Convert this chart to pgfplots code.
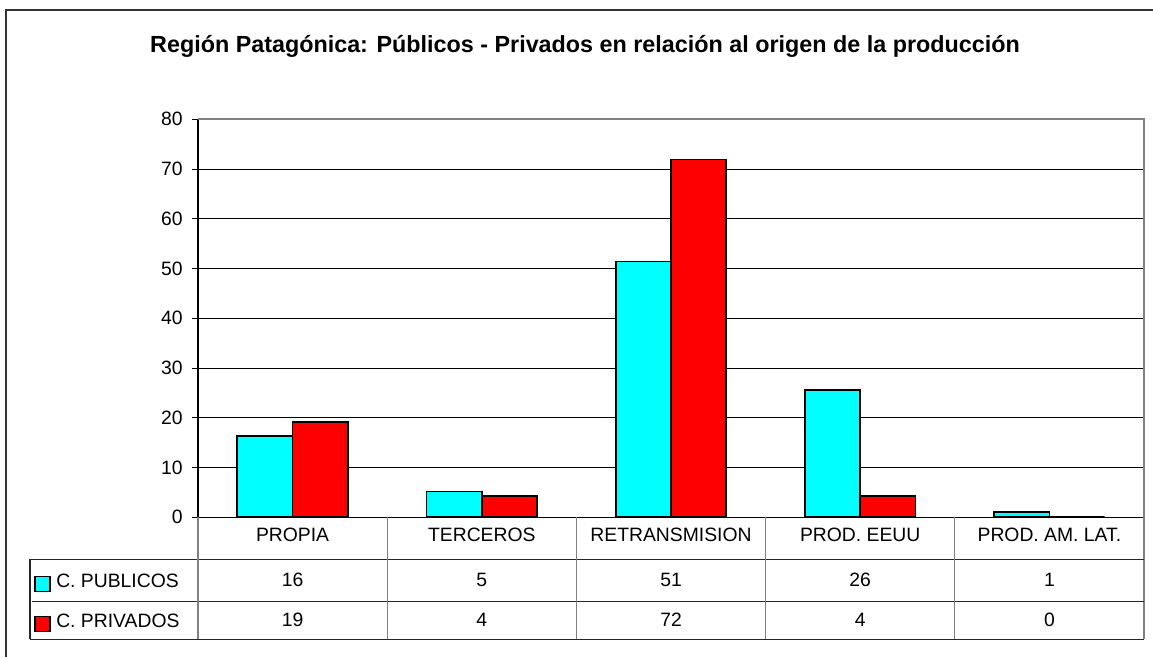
\documentclass[border=0pt]{standalone}
\usepackage{fontspec}
\setmainfont{Liberation Sans}
\usepackage{pgfplots}
\pgfplotsset{compat=1.18}
\definecolor{cyanbar}{RGB}{0,255,255}
\definecolor{redbar}{RGB}{255,0,0}
\definecolor{tgray}{RGB}{128,128,128}
\begin{document}
\begin{tikzpicture}[x=0.75pt,y=0.75pt]
\useasboundingbox (0,0) rectangle (1153,657);
% outer frame
\draw[line width=1.5pt,black!80] (6,0) -- (6,647) -- (1153,647);
% title
\node[font=\bfseries\fontsize{17.5}{20}\selectfont] at (585,611) {Región Patagónica: Públicos - Privados en relación al origen de la producción};
\begin{axis}[
  at={(148.5pt,104.775pt)}, anchor=south west,
  scale only axis, width=709.5pt, height=298.5pt,
  xmin=-0.5, xmax=4.5, ymin=0, ymax=80,
  ybar=0pt, bar width=0.292,
  axis lines*=left,
  axis line style={black, line width=0.9pt},
  ytick={0,10,...,80},
  ymajorgrids,
  grid style={black, line width=0.75pt},
  ytick style={black, line width=0.75pt},
  tick align=outside, major tick length=4.5pt,
  xtick=data,
  xticklabels={PROPIA,TERCEROS,RETRANSMISION,PROD. EEUU,PROD. AM. LAT.},
  xtick style={draw=none},
  xticklabel style={anchor=center, yshift=-8.75pt},
  tick label style={font=\fontsize{14.5}{17}\selectfont},
  yticklabel style={xshift=-3.5pt},
  /pgf/number format/assume math mode=true,
  clip=false,
]
\addplot[fill=cyanbar, draw=black, line width=1.3pt] coordinates {(0,16.4) (1,5.2) (2,51.4) (3,25.6) (4,1.1)};
\addplot[fill=redbar, draw=black, line width=1.3pt] coordinates {(0,19.2) (1,4.3) (2,71.9) (3,4.3) (4,0)};
\end{axis}
% plot area top/right borders
\draw[tgray, line width=1.3pt] (198,537.7) -- (1144,537.7) -- (1144,17.7);
% table lines
\draw[black!85, line width=0.9pt] (30,97.7) -- (1144,97.7);
\draw[black!85, line width=0.9pt] (32,55.7) -- (1144,55.7);
\draw[black!85, line width=0.9pt] (30,17.7) -- (1144,17.7);
\draw[black!85, line width=0.9pt] (30,97.7) -- (30,17.7);
\foreach \xx in {198,387.2,576.4,765.6,954.8} {
  \draw[tgray, line width=1pt] (\xx,139.7) -- (\xx,17.7);
}
% legend keys
\draw[fill=cyanbar, draw=black, line width=0.9pt] (35,80.3) rectangle (50,65.3);
\draw[fill=redbar, draw=black, line width=0.9pt] (35,40.3) rectangle (50,25.3);
\node[anchor=west, font=\fontsize{14.5}{17}\selectfont, inner sep=0pt] at (56,76) {C. PUBLICOS};
\node[anchor=west, font=\fontsize{14.5}{17}\selectfont, inner sep=0pt] at (56,36) {C. PRIVADOS};
% table values
\foreach \xx/\va/\vb in {292.6/16/19, 481.8/5/4, 671/51/72, 860.2/26/4, 1049.4/1/0} {
  \node[font=\fontsize{14.5}{17}\selectfont] at (\xx,77) {\va};
  \node[font=\fontsize{14.5}{17}\selectfont] at (\xx,37) {\vb};
}
\end{tikzpicture}
\end{document}
